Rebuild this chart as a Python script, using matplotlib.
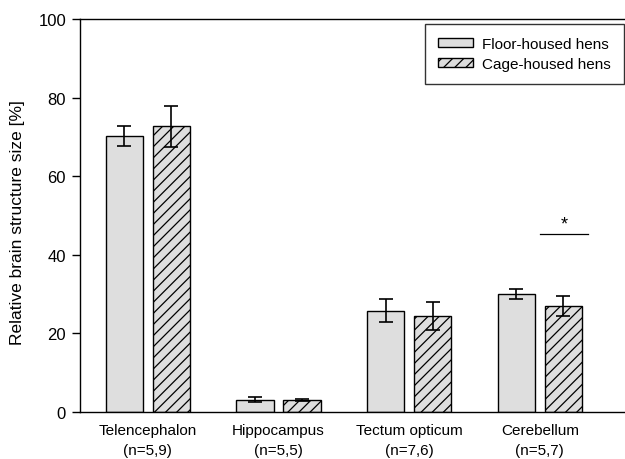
import matplotlib
matplotlib.use("Agg")
import matplotlib.pyplot as plt
import numpy as np

plt.rcParams['font.family'] = ['Liberation Sans', 'DejaVu Sans']
plt.rcParams['hatch.linewidth'] = 0.9
plt.rcParams['hatch.color'] = '#222222'

categories = ["Telencephalon\n(n=5,9)", "Hippocampus\n(n=5,5)", "Tectum opticum\n(n=7,6)", "Cerebellum\n(n=5,7)"]
floor_vals = [70.2, 3.1, 25.8, 30.0]
floor_err = [2.5, 0.6, 3.0, 1.3]
cage_vals = [72.7, 3.0, 24.4, 27.0]
cage_err = [5.2, 0.3, 3.5, 2.6]
series_labels = ["Floor-housed hens", "Cage-housed hens"]

fig = plt.figure(figsize=(6.25, 4.6), dpi=100)
ax = fig.add_axes([80/625, 47/460, 1 - 80/625 + 0.01, 393/460])

x = np.arange(len(categories))
w = 0.285
off = 0.18
ax.bar(x - off, floor_vals, w, color='#dedede', edgecolor='black', linewidth=1.0,
       yerr=floor_err, error_kw=dict(ecolor='black', elinewidth=1.2, capsize=5, capthick=1.2),
       label=series_labels[0], zorder=2)
ax.bar(x + off, cage_vals, w, color='#dedede', edgecolor='black', linewidth=1.0, hatch='///',
       yerr=cage_err, error_kw=dict(ecolor='black', elinewidth=1.2, capsize=5, capthick=1.2),
       label=series_labels[1], zorder=2)

# significance marker
ax.plot([3.0, 3.37], [45.3, 45.3], color='black', linewidth=0.9)
ax.text(3.185, 45.6, '*', ha='center', va='bottom', fontsize=13)

ax.set_xlim(-0.52, 3.70)
ax.set_ylim(0, 100)
ax.set_yticks([0, 20, 40, 60, 80, 100])
ax.set_xticks(x)
ax.set_xticklabels(categories, fontsize=11, linespacing=1.55)
ax.tick_params(axis='x', length=0, pad=8)
ax.tick_params(axis='y', direction='out', length=6, width=1, labelsize=12, pad=4)
ax.set_ylabel("Relative brain structure size [%]", fontsize=12.5)
ax.yaxis.set_label_coords(-0.099, 0.485)
ax.spines['right'].set_visible(False)
for s in ['left', 'top', 'bottom']:
    ax.spines[s].set_linewidth(1.0)

leg = ax.legend(loc='upper right', bbox_to_anchor=(624/625, 435/460), bbox_transform=fig.transFigure,
                fontsize=11, frameon=True, fancybox=False, edgecolor='black', handlelength=2.3,
                handleheight=0.55, borderpad=0.85, labelspacing=0.4, handletextpad=0.6,
                borderaxespad=0)
leg.get_frame().set_linewidth(1.0)

fig.savefig("out.png", dpi=100)
